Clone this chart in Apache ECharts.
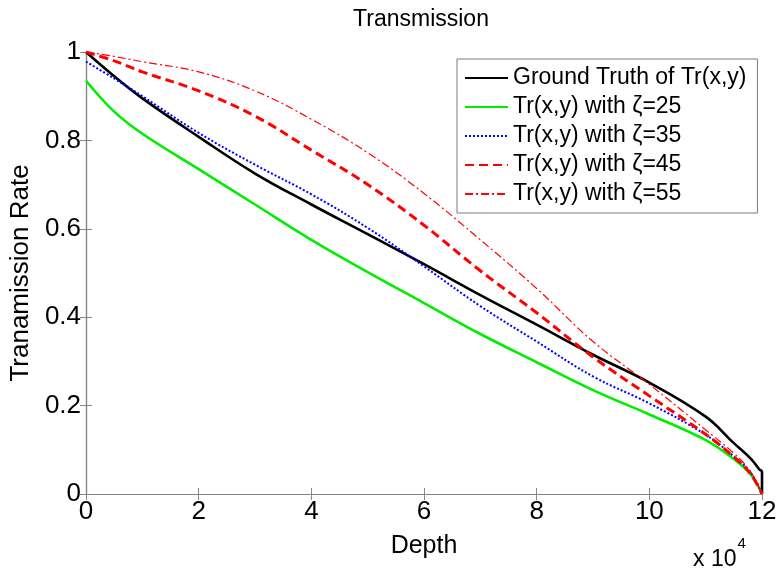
<!DOCTYPE html>
<html>
<head>
<meta charset="utf-8">
<script src="https://cdn.jsdelivr.net/npm/echarts@6/dist/echarts.min.js"></script>
<style>html,body{margin:0;padding:0;background:#fff}#c{width:782px;height:573px}</style>
</head>
<body>
<div id="c"></div>
<script>
// Depth in units of 10^4
const depth = [0, 0.5, 1, 2, 3, 4, 5, 6, 7, 8, 9, 10, 11, 11.5, 11.8, 12];
const blackDepth = [0, 0.5, 1, 2, 3, 4, 5, 6, 7, 8, 9, 10, 11, 11.5, 11.8, 11.95, 12, 12];
const groundTruth = [1, 0.945, 0.895, 0.808, 0.725, 0.655, 0.588, 0.52, 0.45, 0.383, 0.315, 0.252, 0.175, 0.115, 0.08, 0.056, 0.05, 0];
const zeta25 = [0.935, 0.865, 0.815, 0.735, 0.655, 0.575, 0.502, 0.432, 0.362, 0.298, 0.235, 0.18, 0.122, 0.079, 0.044, 0];
const zeta35 = [0.978, 0.94, 0.9, 0.817, 0.745, 0.678, 0.602, 0.515, 0.425, 0.345, 0.266, 0.205, 0.134, 0.085, 0.048, 0];
const zeta45 = [1, 0.98, 0.955, 0.912, 0.855, 0.778, 0.7, 0.608, 0.505, 0.41, 0.31, 0.222, 0.135, 0.084, 0.045, 0];
const zeta55 = [1, 0.99, 0.978, 0.955, 0.912, 0.848, 0.772, 0.68, 0.575, 0.465, 0.345, 0.248, 0.145, 0.092, 0.05, 0];
const xTicks = [0, 2, 4, 6, 8, 10, 12];
const yTicks = [0, 0.2, 0.4, 0.6, 0.8, 1];
const names = ['Ground Truth of Tr(x,y)', 'Tr(x,y) with \u03b6=25', 'Tr(x,y) with \u03b6=35', 'Tr(x,y) with \u03b6=45', 'Tr(x,y) with \u03b6=55'];

const pairs = (xs, ys) => xs.map((x, i) => [x, ys[i]]);
const FONT = '"Liberation Sans", Arial, sans-serif';
const AX = '#858585';

const chart = echarts.init(document.getElementById('c'), null, {renderer: 'canvas'});
const baseX = {
  type: 'value', min: 0, max: 12, interval: 2,
  axisLine: {show: true, lineStyle: {color: AX, width: 1.2}},
  axisTick: {show: true, inside: true, length: 6, lineStyle: {color: AX}},
  splitLine: {show: false}
};
const baseY = {
  type: 'value', min: 0, max: 1, interval: 0.2,
  axisLine: {show: true, lineStyle: {color: AX, width: 1.2}},
  axisTick: {show: true, inside: true, length: 6, lineStyle: {color: AX}},
  splitLine: {show: false}
};
const lineSeries = (name, data, color, width, type) => ({
  name, type: 'line', data, symbol: 'none', smooth: 0.4,
  lineStyle: {color, width, type}, itemStyle: {color}, z: 3, animation: false
});

chart.setOption({
  animation: false,
  backgroundColor: '#fff',
  grid: {left: 86, right: 20, top: 52, bottom: 79, containLabel: false},
  legend: {
    data: names, orient: 'vertical', left: 457, top: 59,
    backgroundColor: '#fff', borderColor: '#7a7a7a', borderWidth: 1,
    padding: [6, 11, 6, 7], itemGap: 3, itemWidth: 43, itemHeight: 14,
    itemStyle: {opacity: 0},
    textStyle: {fontFamily: FONT, fontSize: 23, color: '#000', lineHeight: 26},
    selectedMode: false
  },
  xAxis: [
    Object.assign({}, baseX, {
      position: 'bottom', name: 'Depth', nameLocation: 'middle', nameGap: 40,
      nameTextStyle: {fontFamily: FONT, fontSize: 25, color: '#000'},
      axisLabel: {fontFamily: FONT, fontSize: 26, color: '#000', margin: 5,
        formatter: v => xTicks.includes(v) ? String(v) : ''}
    }),
    Object.assign({}, baseX, {position: 'top', axisLabel: {show: false}})
  ],
  yAxis: [
    Object.assign({}, baseY, {
      position: 'left', name: 'Tranamission Rate', nameLocation: 'middle', nameGap: 52,
      nameTextStyle: {fontFamily: FONT, fontSize: 26, color: '#000'},
      axisLabel: {fontFamily: FONT, fontSize: 26, color: '#000', margin: 5,
        formatter: v => yTicks.some(t => Math.abs(t - v) < 1e-9) ? String(+v.toFixed(1)) : ''}
    }),
    Object.assign({}, baseY, {position: 'right', axisLabel: {show: false}})
  ],
  series: [
    lineSeries(names[0], pairs(blackDepth, groundTruth), '#000000', 2.6, 'solid'),
    lineSeries(names[1], pairs(depth, zeta25), '#00ee00', 2.6, 'solid'),
    lineSeries(names[2], pairs(depth, zeta35), '#0000ff', 2, [2, 2]),
    lineSeries(names[3], pairs(depth, zeta45), '#ff0000', 3, [9, 5]),
    lineSeries(names[4], pairs(depth, zeta55), '#ff0000', 1.2, [8, 3, 2, 3])
  ],
  graphic: [{
    type: 'text', x: 421, y: 31,
    style: {text: 'Transmission', fontFamily: FONT, fontSize: 23, fill: '#000', align: 'center', verticalAlign: 'bottom'}
  }, {
    type: 'text', left: 693, top: 536,
    style: {
      text: '{b|x 10}{s|4}',
      rich: {
        b: {fontFamily: FONT, fontSize: 23, fill: '#000', verticalAlign: 'bottom', padding: [12, 0, 0, 0]},
        s: {fontFamily: FONT, fontSize: 15, fill: '#000', verticalAlign: 'top', padding: [0, 0, 14, 1]}
      }
    }
  }]
});
</script>
</body>
</html>
